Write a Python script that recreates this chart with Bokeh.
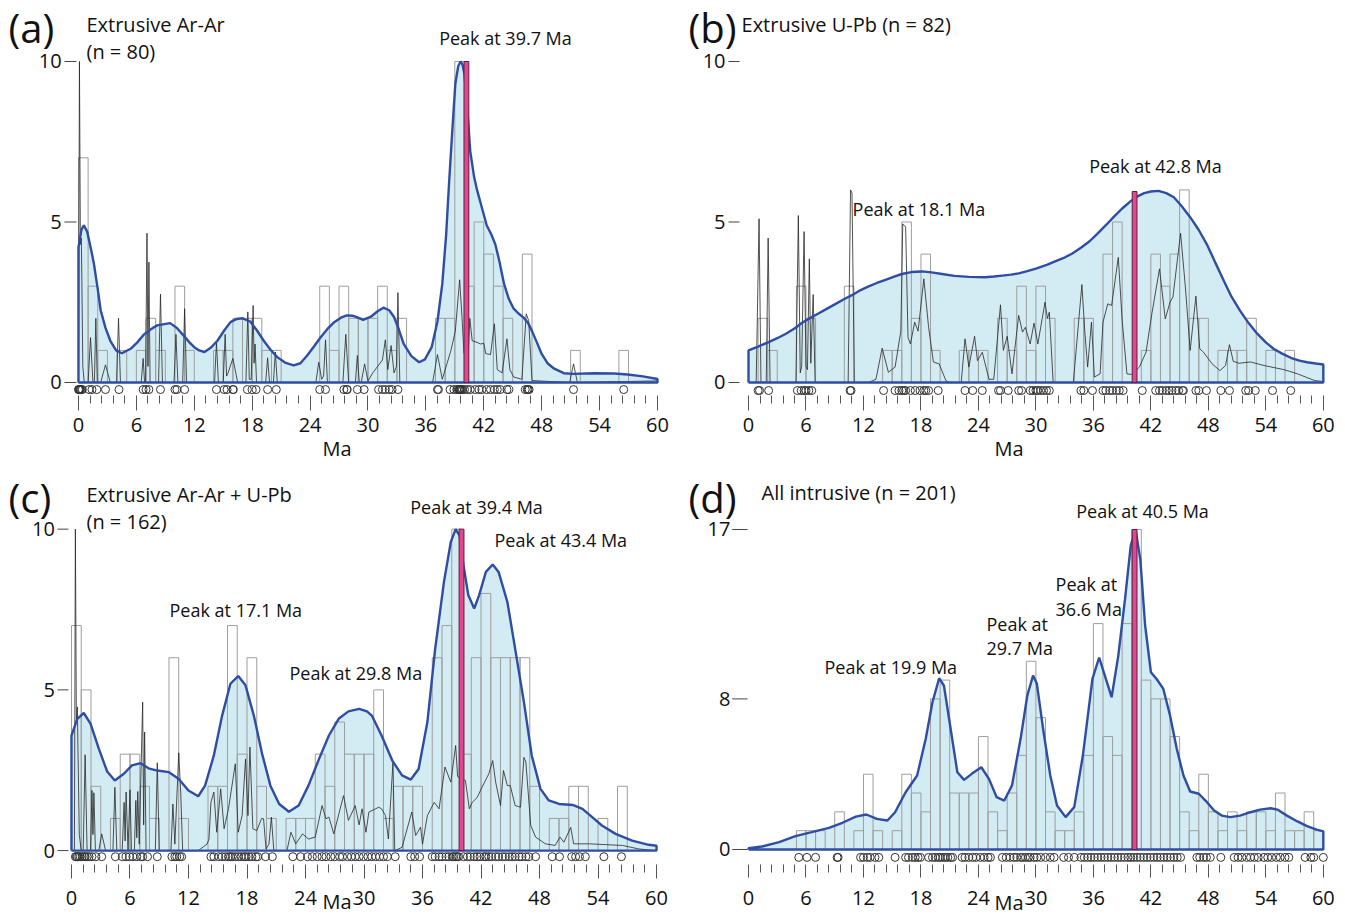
from bokeh.plotting import figure
from bokeh.models import Range1d, FixedTicker, Label
from bokeh.layouts import column, row
from bokeh.core.properties import value
from bokeh.embed import file_html
from bokeh.resources import INLINE

FONT = "Open Sans"
FILL = "#d3ecf3"
BLUE = "#2f4ea3"
BAR = "#9e9e9e"
PINK = "#e3468e"

# ---------------- shared axis data ----------------
x_ticks = [0, 6, 12, 18, 24, 30, 36, 42, 48, 54, 60]
x_minor = [round(i * 1.2, 1) for i in range(51) if i % 5]
bin_edges = list(range(61))

# ---------------- (a) Extrusive Ar-Ar ----------------
a_y_ticks = [0, 5, 10]
a_counts = [7, 3, 1, 0, 1, 0, 1, 2, 1, 0, 3, 1, 0, 0, 1, 1, 2, 2, 2, 1,
            1, 0, 0, 0, 0, 3, 1, 3, 2, 2, 2, 3, 1, 2, 0, 0, 0, 2, 2, 10,
            3, 5, 4, 3, 2, 0, 4, 0, 0, 0, 0, 1, 0, 0, 0, 0, 1, 0, 0, 0]
a_kde_x = [0, 0.3, 0.55, 0.9, 1.3, 1.6, 2.0, 2.3, 2.8, 3.3, 3.9, 4.5, 5.4, 6.1, 6.8, 7.5, 8.15, 9.5,
           10.2, 10.9, 11.5, 12.0, 12.5, 13.05, 13.7, 14.4, 15.1, 15.75, 16.4, 17.0, 17.8, 18.5, 19.2,
           19.9, 20.6, 21.4, 22.3, 23.0, 23.7, 24.4, 25.1, 25.8, 26.5, 27.2, 27.8, 28.4, 28.9, 29.5,
           30.3, 31.0, 31.6, 32.2, 32.7, 33.2, 33.7, 34.5, 35.3, 35.9, 36.6, 37.2, 37.7, 38.1, 38.4,
           38.75, 39.05, 39.35, 39.6, 39.8, 40.0, 40.3, 40.6, 41.0, 41.3, 41.8, 42.3, 42.8, 43.2,
           43.6, 44.1, 44.6, 45.1, 45.6, 46.1, 46.6, 47.0, 47.5, 48.0, 48.6, 49.3, 50.3, 51.3, 53.4,
           55.5, 56.9, 58.5, 60]
a_kde_y = [4.2, 4.75, 4.9, 4.7, 4.15, 3.7, 2.9, 2.25, 1.7, 1.3, 1.0, 0.91, 1.05, 1.25, 1.5, 1.66, 1.78, 1.85,
           1.7, 1.46, 1.25, 1.1, 1.0, 0.95, 1.08, 1.3, 1.62, 1.88, 1.98, 2.0, 1.9, 1.62, 1.3,
           1.02, 0.79, 0.62, 0.53, 0.6, 0.84, 1.12, 1.41, 1.67, 1.88, 2.02, 2.09, 2.08, 2.03, 1.95,
           2.05, 2.22, 2.33, 2.25, 2.04, 1.65, 1.2, 0.82, 0.63, 0.72, 1.1, 1.9, 3.07, 4.6, 6.2,
           7.9, 9.3, 9.85, 10.0, 9.9, 9.6, 8.5, 7.2, 6.4, 6.0, 5.45, 4.9, 4.6, 4.3,
           3.8, 3.07, 2.6, 2.3, 2.15, 2.03, 1.85, 1.6, 1.25, 0.89, 0.6, 0.43, 0.29, 0.27, 0.29,
           0.28, 0.25, 0.19, 0.11]
a_pdp_x = [0.0, 0.1, 0.2, 0.3, 0.45, 0.6, 1.0, 1.25, 1.5, 1.65, 1.8, 1.95, 2.3, 2.8, 3.3, 3.95, 4.15, 4.35,
           6.5, 6.7, 6.85, 6.95, 7.1, 7.2, 7.3, 7.42, 8.3, 8.5, 8.7, 9.9, 10.1, 10.3, 10.8, 11.0, 11.2,
           14.1, 14.3, 14.5, 15.0, 15.2, 15.35, 15.5, 16.0, 16.5, 17.35, 17.55, 17.7, 17.9, 18.1, 18.2,
           18.3, 18.45, 19.4, 19.6, 19.8, 20.2, 20.4, 20.6, 24.6, 24.9, 25.2, 25.4, 25.6, 25.8, 27.4,
           27.7, 28.0, 28.7, 28.9, 29.1, 29.3, 29.65, 30.0, 30.5, 31.0, 31.5, 31.8, 32.05, 32.4, 32.7,
           32.95, 33.1, 33.3, 33.6, 36.7, 37.2, 37.7, 38.2, 38.6, 39.05, 39.5, 39.75, 39.95, 40.4,
           40.55, 40.8, 41.3, 41.65, 42.0, 42.2, 42.7, 43.1, 43.4, 43.9, 44.4, 44.7, 45.1, 45.95,
           46.4, 46.65, 47.0, 50.9, 51.3, 51.7, 60.0]
a_pdp_y = [0, 10.0, 4.3, 4.5, 0.5, 0, 0, 1.4, 0, 0, 2.0, 0, 0, 0.55, 0, 0, 2.0, 0,
           0, 0.75, 0, 0, 4.65, 0.5, 3.75, 0, 0, 2.75, 0, 0, 1.5, 0, 0, 2.3, 0,
           0, 1.25, 0, 0, 1.5, 0.2, 0.3, 0.75, 0, 0, 2.2, 0.1, 0.1, 2.4, 0.6,
           1.2, 0, 0, 0.77, 0, 0, 0.95, 0, 0, 0.63, 0.1, 0.2, 1.33, 0, 0,
           1.5, 0, 0, 0.84, 0, 0, 0.58, 0.05, 0.3, 0.5, 0.7, 1.33, 0.4, 1.15, 0.3,
           0.5, 2.8, 0, 0, 0, 0.87, 0.1, 0.6, 1.0, 1.6, 3.2, 2.0, 0.9, 1.0,
           2.0, 1.3, 1.25, 1.2, 1.22, 0.9, 0.87, 1.83, 0.4, 0.3, 1.36, 0.4, 0.17, 0.1,
           2.14, 1.93, 0.06, 0, 0.58, 0, 0.05]
a_ages = [0.0, 0.05, 0.1, 0.15, 0.2, 0.3, 0.4, 1.1, 1.4, 1.9, 2.8, 4.2, 6.7, 7.0, 7.3, 8.5, 10.0, 10.2,
          11.0, 14.3, 15.1, 15.4, 16.0, 16.05, 17.5, 18.0, 18.4, 19.6, 20.5, 25.0, 25.6, 27.5, 27.8,
          27.85, 28.9, 29.6, 31.1, 31.5, 31.8, 32.2, 32.5, 33.1, 37.2, 37.3, 38.5, 38.9, 39.2, 39.35,
          39.45, 39.5, 39.55, 39.6, 39.7, 39.8, 40.0, 40.3, 40.6, 41.1, 41.5, 41.8, 42.3, 42.7, 43.1,
          43.4, 43.7, 44.4, 44.6, 46.3, 46.5, 46.6, 46.7, 51.3, 56.5]
a_peak = (39.95, 40.45, 10.0)

# ---------------- (b) Extrusive U-Pb ----------------
b_y_ticks = [0, 5, 10]
b_counts = [0, 2, 1, 0, 0, 3, 2, 0, 0, 0, 3, 0, 0, 0, 1, 1, 5, 2, 4, 1,
            0, 0, 1, 1, 1, 0, 2, 1, 3, 1, 3, 2, 0, 0, 2, 2, 0, 4, 5, 0,
            0, 1, 4, 3, 4, 6, 2, 2, 0, 1, 1, 1, 2, 0, 1, 0, 1, 0, 0, 0]
b_kde_x = [0, 1.0, 2.1, 3.0, 3.9, 4.8, 5.6, 6.5, 7.3, 8.2, 9.1, 10.0, 10.8, 11.7, 12.6, 13.4, 14.3, 15.2,
           16.0, 17.0, 18.1, 19.1, 20.2, 21.5, 23.0, 24.7, 25.6, 26.5, 27.4, 28.2, 29.1, 30.0, 31.2,
           32.0, 32.9, 33.8, 34.7, 35.6, 36.4, 37.3, 38.1, 39.0, 39.9, 40.6, 41.3, 42.0, 42.8, 43.6,
           44.4, 45.2, 46.1, 47.0, 47.9, 48.7, 49.6, 50.4, 51.3, 52.2, 53.1, 54.0, 54.8, 55.7, 56.6,
           57.5, 58.3, 59.2, 60]
b_kde_y = [1.0, 1.12, 1.26, 1.38, 1.52, 1.68, 1.86, 2.02, 2.15, 2.3, 2.45, 2.6, 2.72, 2.88, 3.0, 3.1, 3.2, 3.3,
           3.38, 3.44, 3.46, 3.43, 3.38, 3.32, 3.29, 3.28, 3.3, 3.33, 3.36, 3.4, 3.47, 3.55, 3.67,
           3.77, 3.88, 4.02, 4.2, 4.4, 4.63, 4.9, 5.15, 5.42, 5.65, 5.8, 5.9, 5.95, 5.97, 5.9,
           5.77, 5.5, 5.15, 4.75, 4.27, 3.75, 3.18, 2.68, 2.24, 1.85, 1.52, 1.25, 1.05, 0.9, 0.77,
           0.68, 0.63, 0.59, 0.56]
b_pdp_x = [0.8, 1.1, 1.3, 1.85, 2.05, 2.25, 4.95, 5.2, 5.4, 5.55, 5.8, 6.0, 6.15, 6.35, 6.5, 6.75, 6.95,
           10.4, 10.65, 10.8, 11.05, 12.5, 13.3, 13.95, 14.6, 15.3, 15.9, 16.1, 16.4, 16.65, 16.9,
           17.35, 17.7, 18.3, 18.8, 19.3, 19.9, 20.6, 21.0, 22.2, 22.6, 23.0, 23.6, 23.9, 24.4, 25.1,
           25.6, 26.3, 26.6, 27.0, 27.5, 28.2, 28.6, 28.9, 29.4, 29.8, 30.2, 30.95, 31.2, 31.4, 31.8,
           33.9, 34.8, 35.1, 35.4, 35.8, 36.1, 36.7, 37.0, 37.5, 37.9, 38.6, 39.0, 39.5, 40.0, 40.8,
           41.5, 42.1, 42.9, 43.5, 44.0, 44.3, 45.1, 45.6, 46.1, 46.7, 47.1, 47.5, 48.4, 49.2, 49.8,
           50.2, 50.6, 51.2, 52.4, 53.8, 55.9, 57.3, 59.1, 60.0]
b_pdp_y = [0, 5.1, 0, 0, 4.5, 0, 0, 5.2, 0.3, 0.5, 4.7, 0.5, 0.4, 3.85, 0.6, 2.74, 0,
           0, 6.0, 5.9, 0, 0, 0.1, 1.07, 0.32, 0.48, 1.6, 4.94, 4.84, 1.4, 1.2,
           1.88, 1.6, 3.23, 1.72, 0.64, 0.58, 0.06, 0, 0, 1.36, 0.48, 1.44, 0.68, 0.94, 0.1,
           0.1, 2.42, 1.0, 1.44, 0.27, 2.09, 1.57, 1.72, 1.2, 1.85, 1.2, 2.5, 2.0, 2.19, 0,
           0, 3.05, 1.6, 0.48, 1.88, 0.17, 0.27, 1.88, 2.45, 2.4, 3.9, 1.94, 0.27, 0.25, 0.48,
           0.95, 2.14, 3.54, 1.98, 2.5, 2.66, 4.65, 2.98, 1.0, 2.69, 1.05, 0.94, 0.58, 0.37, 0.53,
           1.18, 0.66, 0.6, 0.64, 0.53, 0.4, 0.27, 0.06, 0.03]
b_ages = [1.0, 1.15, 2.1, 5.1, 5.5, 5.8, 6.0, 6.3, 6.6, 10.6, 10.7, 14.1, 15.3, 15.7, 16.0, 16.2, 16.4,
          16.9, 17.4, 17.9, 18.3, 18.5, 18.8, 19.8, 22.6, 23.4, 24.4, 26.1, 26.3, 27.1, 28.2, 28.5,
          29.4, 29.7, 30.0, 30.2, 30.5, 30.8, 31.1, 31.4, 34.7, 35.0, 35.9, 37.0, 37.3, 37.7, 38.0,
          38.4, 38.7, 39.1, 41.1, 42.5, 42.9, 43.2, 43.6, 43.9, 44.2, 44.6, 44.9, 45.3, 45.4, 46.7,
          47.0, 47.8, 49.3, 50.2, 51.9, 52.2, 52.9, 54.7, 56.6]
b_peak = (40.05, 40.55, 5.95)

# ---------------- (c) Extrusive Ar-Ar + U-Pb ----------------
c_y_ticks = [0, 5, 10]
c_counts = [7, 5, 2, 0, 1, 3, 3, 2, 1, 0, 6, 1, 0, 0, 2, 2, 7, 3, 6, 2,
            1, 0, 1, 1, 1, 3, 2, 4, 3, 3, 3, 5, 1, 2, 2, 2, 0, 6, 7, 10,
            3, 6, 8, 6, 6, 6, 6, 2, 0, 1, 1, 2, 2, 0, 1, 0, 2, 0, 0, 0]
c_kde_x = [0, 0.6, 1.26, 1.95, 2.8, 3.66, 4.44, 5.37, 6.2, 7.1, 7.9, 8.8, 10.0, 11.0, 12.0, 13.0, 13.7,
           14.6, 15.45, 16.3, 17.1, 17.85, 18.7, 19.55, 20.4, 21.3, 22.3, 23.3, 24.3, 25.4, 26.4, 27.4,
           28.4, 29.5, 30.3, 30.8, 31.8, 32.9, 33.9, 34.8, 35.6, 36.5, 37.3, 38.2, 38.9, 39.4, 39.8,
           40.2, 40.7, 41.3, 41.8, 42.5, 43.2, 43.8, 44.7, 45.5, 46.4, 47.2, 48.1, 48.95, 50.0, 51.4,
           52.4, 53.4, 54.4, 55.8, 57.5, 59.2, 60]
c_kde_y = [3.58, 4.1, 4.28, 3.95, 3.17, 2.46, 2.18, 2.39, 2.65, 2.72, 2.56, 2.49, 2.44, 2.23, 1.87, 1.69, 2.02,
           2.96, 4.2, 5.19, 5.43, 5.14, 4.2, 3.01, 2.02, 1.45, 1.21, 1.4, 2.02, 2.86, 3.58, 4.1,
           4.33, 4.41, 4.33, 4.2, 3.58, 2.8, 2.34, 2.21, 2.54, 4.0, 6.28, 8.36, 9.6, 10.0, 9.8,
           8.88, 7.94, 7.53, 7.94, 8.67, 8.9, 8.67, 7.74, 6.28, 4.62, 2.96, 1.92, 1.56, 1.45, 1.42,
           1.3, 1.04, 0.78, 0.52, 0.31, 0.18, 0.15]
c_pdp_x = [0.3, 0.4, 0.5, 0.6, 0.8, 1.0, 1.2, 1.4, 1.6, 1.95, 2.1, 2.2, 2.3, 2.45, 2.8, 3.1, 3.5, 4.25,
           4.45, 4.65, 5.2, 5.4, 5.5, 5.6, 5.8, 6.0, 6.15, 6.45, 6.6, 6.7, 6.8, 6.95, 7.3, 7.4, 7.5,
           7.65, 8.6, 8.8, 9.0, 10.2, 10.4, 10.6, 11.0, 11.2, 11.4, 13.0, 13.9, 14.1, 14.3, 14.6, 14.9,
           15.3, 15.65, 16.1, 16.8, 17.1, 17.5, 17.85, 18.1, 18.3, 18.6, 19.0, 19.5, 19.7, 19.95, 20.25,
           20.5, 20.75, 22.1, 22.5, 23.0, 23.7, 24.3, 25.0, 25.7, 26.1, 26.4, 26.9, 27.9, 28.4, 29.1,
           29.5, 29.8, 30.2, 30.5, 31.2, 31.5, 31.8, 32.2, 32.5, 32.97, 33.15, 33.9, 34.9, 35.3, 35.8,
           36.0, 36.5, 37.2, 37.7, 38.3, 38.9, 39.4, 39.6, 40.4, 40.8, 41.1, 41.6, 42.1, 42.8, 43.2,
           43.5, 44.0, 44.3, 44.7, 45.0, 45.5, 46.05, 46.4, 46.6, 47.1, 47.6, 48.6, 49.6, 50.1, 50.5,
           51.2, 51.5, 53.1, 56.5, 58.2, 60]
c_pdp_y = [0, 10.0, 4.0, 4.47, 0.5, 0, 0, 2.98, 0, 0, 1.87, 0.5, 1.8, 0, 0, 0.52, 0, 0,
           1.97, 0, 0, 1.5, 0.3, 1.82, 0, 1.89, 0, 0, 1.56, 0.4, 1.84, 0.2, 4.62, 0.8, 3.69,
           0, 0, 2.73, 0, 0, 1.45, 0.2, 3.04, 1.82, 0, 0, 0.2, 0.36, 1.5, 1.82, 0.57,
           1.92, 0.68, 1.3, 2.7, 0.57, 1.09, 2.85, 1.09, 3.22, 0.68, 0.62, 1.0, 0.99, 0.05, 0.2,
           1.04, 0, 0, 0.57, 0.21, 0.52, 0.36, 0.42, 1.4, 0.99, 1.04, 0.52, 1.71, 0.94, 1.4,
           0.8, 1.3, 0.57, 1.2, 1.3, 1.35, 1.3, 1.09, 0.36, 2.75, 0, 0.1, 1.2, 0.47, 0.73,
           0.2, 1.09, 1.5, 1.3, 2.6, 2.13, 3.27, 2.3, 2.18, 1.3, 1.5, 1.65, 1.97, 2.39, 2.8,
           2.13, 1.4, 2.49, 2.02, 2.02, 1.4, 1.35, 2.9, 2.75, 0.78, 0.42, 0.21, 0.16, 0.42, 0.26,
           0.72, 0.21, 0.21, 0.16, 0.05, 0]
c_ages = [0.4, 0.5, 0.6, 0.75, 0.9, 1.1, 1.3, 1.4, 1.6, 1.8, 2.1, 2.5, 3.1, 4.5, 5.2, 5.6, 5.95, 6.3, 6.7,
          7.1, 7.3, 7.8, 8.8, 10.3, 10.6, 10.8, 11.1, 11.3, 14.3, 14.6, 15.1, 15.45, 15.8, 16.1, 16.3,
          16.5, 16.8, 17.1, 17.4, 17.7, 17.9, 18.2, 18.5, 18.9, 19.1, 19.9, 20.6, 22.7, 23.5, 24.2,
          24.7, 25.2, 25.7, 26.1, 26.6, 27.0, 27.5, 27.8, 28.3, 28.7, 29.1, 29.5, 29.95, 30.4, 30.8,
          31.2, 31.6, 32.0, 32.4, 33.2, 34.8, 35.2, 35.7, 37.0, 37.3, 37.7, 38.0, 38.4, 38.7, 39.05,
          39.2, 39.4, 39.55, 39.7, 40.2, 40.6, 40.9, 41.3, 41.6, 41.9, 42.3, 42.5, 42.8, 43.1, 43.5,
          43.8, 44.2, 44.5, 44.9, 45.2, 45.5, 45.9, 46.2, 46.6, 46.9, 47.6, 49.3, 50.05, 51.3, 51.7,
          52.1, 52.7, 54.6, 56.4]
c_peak = (39.75, 40.25, 10.0)

# ---------------- (d) All intrusive ----------------
d_y_ticks = [0, 8, 17]
d_counts = [0, 0, 0, 0, 0, 1, 1, 1, 0, 2, 0, 1, 4, 1, 0, 1, 4, 3, 2, 8,
            9, 3, 3, 3, 6, 2, 1, 3, 5, 10, 7, 2, 1, 1, 2, 5, 12, 6, 5, 12,
            17, 9, 8, 8, 6, 2, 1, 4, 2, 1, 2, 1, 2, 2, 1, 3, 1, 1, 2, 1]
d_kde_x = [0, 1.4, 3.2, 4.9, 6.6, 8.4, 9.8, 11.2, 12.3, 13.4, 14.5, 15.3, 16.4, 17.6, 18.5, 19.2, 19.9,
           20.4, 21.1, 21.8, 22.5, 23.3, 24.3, 25.1, 25.9, 26.7, 27.5, 28.4, 29.1, 29.7, 30.1, 30.8,
           31.5, 32.2, 33.1, 34.0, 34.9, 35.9, 36.6, 37.3, 37.9, 38.6, 39.3, 39.9, 40.4, 40.9, 41.4,
           42.0, 42.6, 43.3, 44.0, 44.7, 45.4, 46.1, 47.0, 47.7, 48.6, 49.4, 50.3, 51.3, 52.4, 53.4,
           54.5, 55.2, 56.2, 57.3, 58.3, 59.3, 60]
d_kde_y = [0.07, 0.16, 0.39, 0.71, 0.92, 1.15, 1.42, 1.75, 1.86, 1.63, 1.54, 1.98, 3.04, 3.93, 5.88, 7.82, 9.1,
           8.7, 6.4, 4.1, 3.7, 4.02, 4.37, 3.75, 2.78, 2.6, 3.4, 5.88, 8.18, 9.24, 8.8, 6.23,
           3.93, 2.34, 1.72, 2.25, 4.99, 9.06, 10.2, 9.06, 8.09, 10.3, 13.3, 16.15, 17.0, 15.4, 11.9,
           9.42, 9.06, 8.53, 7.12, 5.35, 3.93, 3.08, 2.96, 2.6, 2.07, 1.8, 1.72, 1.8, 1.98, 2.12,
           2.19, 2.12, 1.8, 1.49, 1.24, 1.06, 0.96]
d_ages = [5.25, 6.1, 7.0, 9.25, 9.35, 11.7, 12.0, 12.4, 12.7, 13.2, 13.6, 15.3, 16.4, 16.7, 17.1, 17.4,
          17.7, 17.95, 18.8, 19.2, 19.5, 19.8, 20.0, 20.3, 20.55, 20.8, 21.1, 21.3, 22.3, 22.6, 23.0,
          23.4, 23.75, 24.2, 24.6, 25.0, 25.25, 26.5, 26.9, 27.3, 27.7, 28.0, 28.4, 28.6, 28.9, 29.2,
          29.4, 29.8, 30.1, 30.5, 31.0, 31.5, 31.9, 32.9, 33.4, 34.0, 34.7, 35.05, 35.4, 35.75, 36.1,
          36.45, 36.8, 37.15, 37.5, 37.85, 38.2, 38.55, 38.9, 39.25, 39.6, 39.9, 40.2, 40.55, 40.9,
          41.25, 41.6, 41.95, 42.3, 42.65, 43.0, 43.35, 43.7, 44.05, 44.4, 44.75, 45.1, 46.8, 47.1,
          47.5, 47.8, 48.2, 49.3, 50.7, 51.1, 51.5, 52.0, 52.4, 52.8, 53.2, 53.8, 54.2, 54.6, 55.1,
          55.5, 56.0, 56.4, 58.1, 58.7, 59.0, 60.0]
d_peak = (40.05, 40.55, 17.0)


def make_panel(width, height, xr, yr, bottom_border, y_ticks, ytick_geom, counts, kde_x, kde_y,
               pdp_x, pdp_y, ages, rug_y, peak, texts, tick_out, label_standoff, ma_standoff):
    p = figure(width=width, height=height, title=None,
               x_range=Range1d(*xr), y_range=Range1d(*yr),
               output_backend="svg", toolbar_location=None, y_axis_location=None,
               min_border_left=0, min_border_right=0,
               min_border_top=0, min_border_bottom=bottom_border)
    p.outline_line_color = None
    p.grid.visible = False

    px = [kde_x[0]] + kde_x + [kde_x[-1]]
    py = [0] + kde_y + [0]
    p.patch(px, py, fill_color=FILL, line_color=None)

    idx = [i for i, c in enumerate(counts) if c > 0]
    p.quad(left=[bin_edges[i] for i in idx], right=[bin_edges[i + 1] for i in idx],
           bottom=[0] * len(idx), top=[counts[i] for i in idx],
           fill_color=None, line_color=BAR, line_width=1)

    if pdp_x:
        p.line(pdp_x, pdp_y, line_color="#262626", line_width=0.8)

    p.line(px + [px[0]], py + [py[0]], line_color=BLUE, line_width=2.4)

    p.scatter(ages, [rug_y] * len(ages), marker="circle", size=8,
              fill_color=None, line_color="#333333", line_width=1)

    p.quad(left=[peak[0]], right=[peak[1]], bottom=[0], top=[peak[2]],
           fill_color=PINK, line_color="#5e1f3e", line_width=1)

    # y-axis ticks and labels, drawn in data coordinates next to x = 0
    t0, t1, lx = ytick_geom
    n = len(y_ticks)
    p.segment(x0=[t0] * n, y0=y_ticks, x1=[t1] * n, y1=y_ticks,
              line_color="#444444", line_width=1)
    p.text(x=[lx] * n, y=y_ticks, text=[str(t) for t in y_ticks],
           text_font=value(FONT), text_font_size="20px", text_align="right",
           text_baseline="middle", text_color="#111111")

    xa = p.xaxis[0]
    xa.ticker = FixedTicker(ticks=x_ticks, minor_ticks=x_minor)
    xa.axis_line_color = None
    xa.major_tick_in = 0
    xa.major_tick_out = tick_out
    xa.minor_tick_in = 0
    xa.minor_tick_out = 8
    xa.major_tick_line_color = "#555555"
    xa.minor_tick_line_color = "#555555"
    xa.major_label_text_font = FONT
    xa.major_label_text_font_size = "20px"
    xa.major_label_text_color = "#111111"
    xa.major_label_standoff = label_standoff
    xa.axis_label = "Ma"
    xa.axis_label_text_font = FONT
    xa.axis_label_text_font_size = "20px"
    xa.axis_label_text_font_style = "normal"
    xa.axis_label_text_color = "#111111"
    xa.axis_label_standoff = ma_standoff

    for (tx, ty, txt, size, align) in texts:
        p.add_layout(Label(x=tx, y=ty, text=txt, text_font=FONT,
                           text_font_size=f"{size}px", text_align=align,
                           text_baseline="middle", text_color="#111111"))
    return p


# left column: 0..673 px, right column: 673..1344 px
pa = make_panel(673, 465, (-8.08, 61.66), (-0.405, 11.90), 70, a_y_ticks, (-1.45, -0.21, -1.75),
                a_counts, a_kde_x, a_kde_y, a_pdp_x, a_pdp_y, a_ages, -0.22, a_peak,
                [(-7.25, 11.06, "(a)", 40, "left"),
                 (0.83, 11.15, "Extrusive Ar-Ar", 20, "left"),
                 (0.83, 10.31, "(n = 80)", 20, "left"),
                 (44.25, 10.72, "Peak at 39.7 Ma", 18, "center")],
                15, 7, 0)

pb = make_panel(671, 465, (-7.83, 62.21), (-0.405, 11.90), 70, b_y_ticks, (-2.09, -0.94, -2.4),
                b_counts, b_kde_x, b_kde_y, b_pdp_x, b_pdp_y, b_ages, -0.25, b_peak,
                [(-6.26, 11.06, "(b)", 40, "left"),
                 (-0.73, 11.15, "Extrusive U-Pb (n = 82)", 20, "left"),
                 (42.48, 6.73, "Peak at 42.8 Ma", 18, "center"),
                 (10.86, 5.42, "Peak at 18.1 Ma", 18, "left")],
                15, 7, 0)

pc = make_panel(673, 456, (-7.28, 61.74), (-0.433, 11.98), 55, c_y_ticks, (-1.44, -0.31, -1.7),
                c_counts, c_kde_x, c_kde_y, c_pdp_x, c_pdp_y, c_ages, -0.19, c_peak,
                [(-6.46, 10.99, "(c)", 40, "left"),
                 (1.54, 11.08, "Extrusive Ar-Ar + U-Pb", 20, "left"),
                 (1.54, 10.25, "(n = 162)", 20, "left"),
                 (41.54, 10.68, "Peak at 39.4 Ma", 18, "center"),
                 (43.38, 9.66, "Peak at 43.4 Ma", 18, "left"),
                 (10.05, 7.49, "Peak at 17.1 Ma", 18, "left"),
                 (22.36, 5.54, "Peak at 29.8 Ma", 18, "left")],
                14, 12, -20)

pd_ = make_panel(671, 456, (-7.83, 62.21), (-0.797, 20.40), 57, d_y_ticks, (-1.7, -0.1, -1.9),
                 d_counts, d_kde_x, d_kde_y, None, None, d_ages, -0.42, d_peak,
                 [(-6.26, 18.7, "(d)", 40, "left"),
                  (1.36, 18.97, "All intrusive (n = 201)", 20, "left"),
                  (41.13, 17.96, "Peak at 40.5 Ma", 18, "center"),
                  (32.05, 14.08, "Peak at", 18, "left"),
                  (32.05, 12.8, "36.6 Ma", 18, "left"),
                  (24.84, 11.96, "Peak at", 18, "left"),
                  (24.84, 10.68, "29.7 Ma", 18, "left"),
                  (7.93, 9.72, "Peak at 19.9 Ma", 18, "left")],
                 13, 13, -19)

layout = column(row(pa, pb), row(pc, pd_))
open("out.html", "w").write(file_html(layout, INLINE))
